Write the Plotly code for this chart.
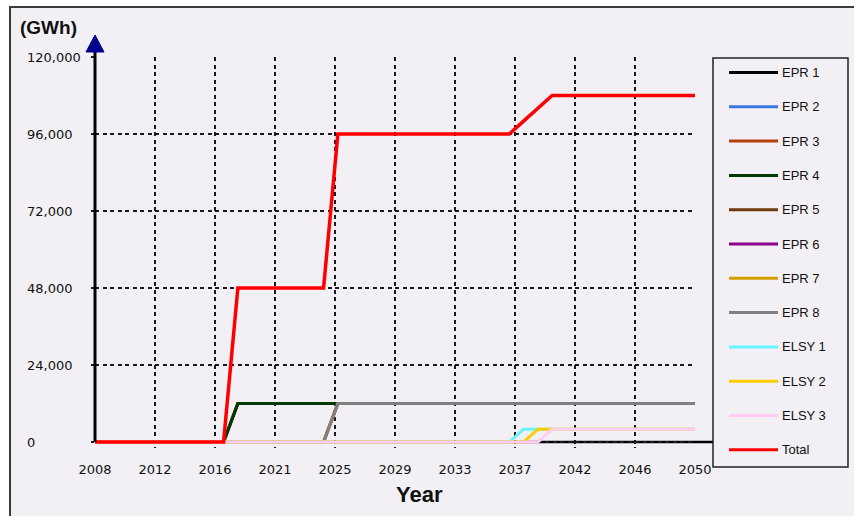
import plotly.graph_objects as go
import numpy as np

# ---- data ----
series_names = ["EPR 1", "EPR 2", "EPR 3", "EPR 4", "EPR 5", "EPR 6", "EPR 7", "EPR 8",
                "ELSY 1", "ELSY 2", "ELSY 3", "Total"]
series_colors = ["#000000", "#3a78dc", "#b4400c", "#003a00", "#6e3a0c", "#8c008c",
                 "#d4a000", "#808080", "#66f4ff", "#ffcc00", "#ffccf2", "#ff0000"]

epr_a_years = [2008, 2017, 2018, 2050]
epr_a_values = [0, 0, 12000, 12000]
epr_b_years = [2008, 2024, 2025, 2050]
epr_b_values = [0, 0, 12000, 12000]
elsy1_years = [2008, 2037, 2038, 2050]
elsy1_values = [0, 0, 4000, 4000]
elsy2_years = [2008, 2038, 2039, 2050]
elsy2_values = [0, 0, 4000, 4000]
elsy3_years = [2008, 2039, 2040, 2050]
elsy3_values = [0, 0, 4000, 4000]
total_years = [2008, 2017, 2018, 2024, 2025, 2037, 2038, 2039, 2040, 2050]
total_values = [0, 0, 48000, 48000, 96000, 96000, 100000, 104000, 108000, 108000]

x_tick_labels = ["2008", "2012", "2016", "2021", "2025", "2029", "2033", "2037",
                 "2042", "2046", "2050"]
y_tick_values = [0, 24000, 48000, 72000, 96000, 120000]
y_tick_labels = ["0", "24,000", "48,000", "72,000", "96,000", "120,000"]

series_data = [
    (epr_a_years, epr_a_values), (epr_a_years, epr_a_values),
    (epr_a_years, epr_a_values), (epr_a_years, epr_a_values),
    (epr_b_years, epr_b_values), (epr_b_years, epr_b_values),
    (epr_b_years, epr_b_values), (epr_b_years, epr_b_values),
    (elsy1_years, elsy1_values), (elsy2_years, elsy2_values),
    (elsy3_years, elsy3_values), (total_years, total_values),
]

# ---- layout geometry (pixels) ----
W, H = 854, 516
L, R, T = 95, 695, 57
Y0PIX = 442          # pixel row of value 0
BP = 448             # bottom of plot area (a little below 0 so lines at 0 are not clipped)
PW, PH = R - L, BP - T
Y_MAX = 120000
Y_MIN = -(BP - Y0PIX) / (Y0PIX - T) * Y_MAX


def px(xpix):
    return (xpix - L) / PW


def py(ypix):
    return (BP - ypix) / PH


BG = "#f2f0f4"
TICK_FONT = dict(family="DejaVu Sans", size=13, color="#111111")

fig = go.Figure()
for (xs, ys), name, color in zip(series_data, series_names, series_colors):
    fig.add_trace(go.Scatter(
        x=xs, y=ys, mode="lines", name=name,
        line=dict(color=color, width=3.5 if name == "Total" else 3),
        showlegend=False, hoverinfo="x+y+name",
    ))

shapes = []
annotations = []

# outer frame with fill
shapes.append(dict(type="rect", xref="paper", yref="paper",
                   x0=px(10), x1=px(858), y0=py(520), y1=py(7),
                   line=dict(color="#3a3a3a", width=2), fillcolor=BG, layer="below"))
# x axis line (extends to the legend box)
shapes.append(dict(type="line", xref="paper", yref="paper",
                   x0=px(95), x1=px(713), y0=py(Y0PIX), y1=py(Y0PIX),
                   line=dict(color="#000000", width=2.5), layer="below"))
# y axis line
shapes.append(dict(type="line", xref="paper", yref="paper",
                   x0=0, x1=0, y0=py(Y0PIX), y1=py(51),
                   line=dict(color="#000000", width=3), layer="above"))
# arrow head
shapes.append(dict(type="path", xref="paper", yref="paper",
                   path=f"M {px(86)} {py(52)} L {px(104)} {py(52)} L {px(95)} {py(35)} Z",
                   fillcolor="#00008b", line=dict(color="#00008b", width=1), layer="above"))

# y tick labels (left aligned)
for v, t in zip(y_tick_values, y_tick_labels):
    annotations.append(dict(text=t, xref="paper", yref="y", x=px(25), y=v,
                            xanchor="left", yanchor="middle", showarrow=False,
                            font=TICK_FONT))

# titles
annotations.append(dict(text="<b>(GWh)</b>", xref="paper", yref="paper",
                        x=px(18), y=py(28), xanchor="left", yanchor="middle",
                        showarrow=False,
                        font=dict(family="Liberation Sans", size=19, color="#111111")))
annotations.append(dict(text="<b>Year</b>", xref="paper", yref="paper",
                        x=px(419), y=py(494), xanchor="center", yanchor="middle",
                        showarrow=False,
                        font=dict(family="Liberation Sans", size=22, color="#111111")))

# manual legend
shapes.append(dict(type="rect", xref="paper", yref="paper",
                   x0=px(713), x1=px(848), y0=py(467), y1=py(58),
                   line=dict(color="#222222", width=1.5), fillcolor=BG, layer="above"))
for i, (name, color) in enumerate(zip(series_names, series_colors)):
    yy = 72.5 + 34.3 * i
    shapes.append(dict(type="line", xref="paper", yref="paper",
                       x0=px(729), x1=px(778), y0=py(yy), y1=py(yy),
                       line=dict(color=color, width=3), layer="above"))
    annotations.append(dict(text=name, xref="paper", yref="paper",
                            x=px(780), y=py(yy), xanchor="left", yanchor="middle",
                            showarrow=False,
                            font=dict(family="Liberation Sans", size=13, color="#111111")))

tick_positions = np.linspace(2008, 2050, len(x_tick_labels))

fig.update_layout(
    width=W, height=H,
    margin=dict(l=L, r=W - R, t=T, b=H - BP, pad=0),
    paper_bgcolor="#ffffff",
    plot_bgcolor="rgba(0,0,0,0)",
    showlegend=False,
    shapes=shapes,
    annotations=annotations,
    xaxis=dict(
        range=[2008, 2050], tickmode="array", tickvals=tick_positions,
        ticktext=x_tick_labels, showgrid=True, gridcolor="#1a1a1a", gridwidth=1.5,
        griddash="4px,3.5px", zeroline=False, showline=False,
        ticks="", ticklabelstandoff=12, tickfont=TICK_FONT, fixedrange=True,
    ),
    yaxis=dict(
        range=[Y_MIN, Y_MAX], tickmode="array", tickvals=y_tick_values,
        showticklabels=False, showgrid=True, gridcolor="#1a1a1a", gridwidth=1.5,
        griddash="4px,3.5px", zeroline=False, showline=False,
        ticks="outside", ticklen=3, tickwidth=1.5, tickcolor="#1a1a1a",
        fixedrange=True,
    ),
)

fig.write_html("out.html", config={"displayModeBar": False},
               post_script="document.body.style.margin='0px';document.body.style.overflow='hidden';")
